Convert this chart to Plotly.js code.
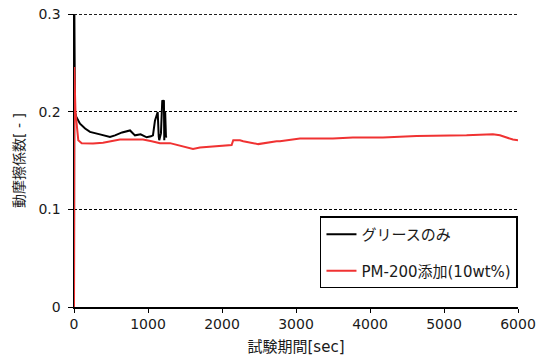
<!DOCTYPE html>
<html><head><meta charset="utf-8">
<script src="https://cdn.plot.ly/plotly-3.0.1.min.js"></script>
<style>html,body{margin:0;padding:0;background:#fff}#chart{width:544px;height:360px}</style>
</head><body><div id="chart"></div>
<script>
const seriesNames = ["グリースのみ", "PM-200添加(10wt%)"];
const greaseX = [0, 5, 13, 30, 81, 150, 216, 350, 486, 554, 650, 757, 824, 900, 982, 1040, 1067, 1094, 1131, 1145, 1152, 1175, 1193, 1205, 1215, 1220, 1232, 1243, 1250];
const greaseY = [0, 0.3, 0.2, 0.195, 0.188, 0.183, 0.1795, 0.177, 0.1744, 0.176, 0.179, 0.181, 0.176, 0.177, 0.174, 0.175, 0.176, 0.191, 0.2, 0.175, 0.171, 0.178, 0.212, 0.21, 0.212, 0.171, 0.2, 0.174, 0.175];
const pmX = [0, 4, 20, 40, 58, 104, 257, 392, 500, 621, 800, 932, 1050, 1162, 1297, 1523, 1608, 1702, 1972, 1995, 2130, 2152, 2243, 2287, 2490, 2738, 2783, 3053, 3499, 3769, 4175, 4630, 5305, 5661, 5756, 5931, 6000];
const pmY = [0, 0.246, 0.2, 0.18, 0.171, 0.168, 0.1676, 0.1685, 0.17, 0.1717, 0.1717, 0.1717, 0.170, 0.168, 0.168, 0.164, 0.162, 0.1635, 0.1648, 0.1648, 0.166, 0.171, 0.171, 0.170, 0.167, 0.170, 0.170, 0.1727, 0.1727, 0.1737, 0.1737, 0.1754, 0.176, 0.1771, 0.176, 0.1717, 0.171];
const xTicks = [0, 1000, 2000, 3000, 4000, 5000, 6000];
const yTicks = [0, 0.1, 0.2, 0.3];
const yTickText = ["0", "0.1", "0.2", "0.3"];

const FONT = "DejaVu Sans, Noto Sans CJK JP, sans-serif";
const TXT = "#1a1a1a";
const traces = [
  {x: greaseX, y: greaseY, name: seriesNames[0], type: "scatter", mode: "lines",
   line: {color: "#000000", width: 2}, legendgroup: "a"},
  {x: pmX, y: pmY, name: seriesNames[1], type: "scatter", mode: "lines",
   line: {color: "rgb(240,50,50)", width: 2}, legendgroup: "b"}
];
const layout = {
  width: 544, height: 360,
  margin: {l: 74, r: 26, t: 14, b: 53},
  paper_bgcolor: "#fff", plot_bgcolor: "#fff",
  font: {family: FONT, size: 14, color: TXT},
  showlegend: true,
  legend: {x: 0.554, y: 0.309, xanchor: "left", yanchor: "top",
    bordercolor: "#000", borderwidth: 1.5, bgcolor: "#fff",
    font: {family: FONT, size: 15, color: TXT},
    tracegroupgap: 14, itemwidth: 30, traceorder: "grouped"},
  shapes: [{type: "line", xref: "paper", yref: "y", x0: 0, x1: 1,
    y0: yTicks[yTicks.length - 1], y1: yTicks[yTicks.length - 1],
    line: {color: "#000", width: 1, dash: "3px,2px"}, layer: "below"}],
  xaxis: {range: [0, 6000], tickvals: xTicks, ticks: "outside", ticklen: 4,
    tickcolor: "#000", showline: true, linecolor: "#000", linewidth: 1.5,
    showgrid: false, zeroline: false,
    title: {text: "試験期間[sec]", font: {family: FONT, size: 15, color: TXT}, standoff: 10},
    tickfont: {family: FONT, size: 14, color: TXT}},
  yaxis: {range: [0, 0.3004], tickvals: yTicks, ticktext: yTickText, ticks: "outside", ticklen: 5,
    tickcolor: "#000", showline: true, linecolor: "#000", linewidth: 1.5,
    showgrid: true, gridcolor: "#000", gridwidth: 1, griddash: "3px,2px", zeroline: false,
    ticklabelstandoff: 4,
    title: {text: "動摩擦係数[ - ]", font: {family: FONT, size: 14, color: TXT}, standoff: 10},
    tickfont: {family: FONT, size: 14, color: TXT}}
};
Plotly.newPlot("chart", traces, layout, {displayModeBar: false, staticPlot: true});
</script></body></html>
